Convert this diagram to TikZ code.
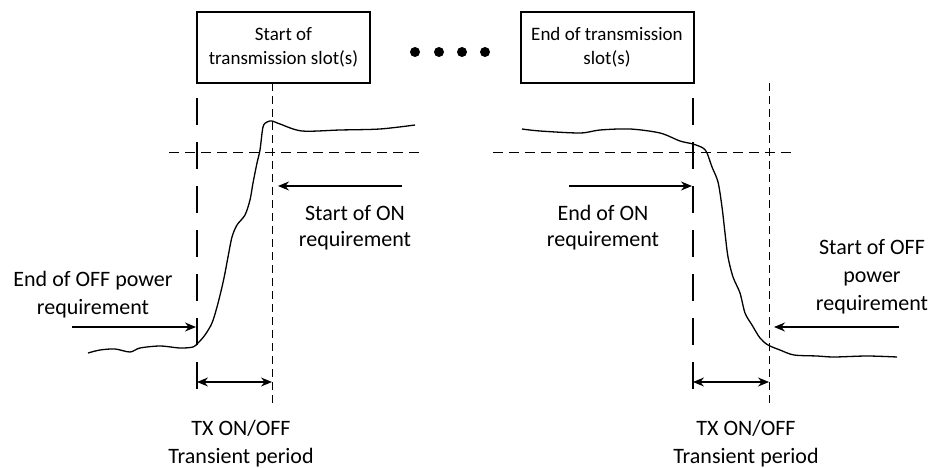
\documentclass[tikz,border=0pt]{standalone}
\usepackage{fontspec}
\setmainfont{Carlito}
\usetikzlibrary{arrows.meta}

\begin{document}
\begin{tikzpicture}[x=1pt,y=-1pt,>={Stealth[length=11pt,width=9pt]},
  every node/.style={font=\fontsize{22}{28}\selectfont,align=center,inner sep=0pt},
  slot/.style={draw,line width=2pt,minimum width=173pt,minimum height=71pt,font=\fontsize{19}{24}\selectfont},
  dot/.style={circle,fill,minimum size=10pt},
  longdash/.style={line width=1.6pt,dash pattern=on 27pt off 17pt},
  shortdash/.style={line width=1pt,dash pattern=on 8pt off 5pt},
  level/.style={line width=1pt,dash pattern=on 10pt off 6pt},
  wave/.style={line width=1.3pt},
  pointer/.style={line width=1.2pt}]

\useasboundingbox (0,0) rectangle (937,468);

\node[slot] (s1) at (283.5,47.5) {Start of\\transmission slot(s)};
\node[slot] (s2) at (607,47.5) {End of transmission\\slot(s)};
\foreach \i/\x in {1/415,2/439,3/462,4/485}
  \node[dot] (d\i) at (\x,52) {};

\coordinate (l1t) at (197,98);  \coordinate (l1b) at (197,403);
\coordinate (k1t) at (272,83);  \coordinate (k1b) at (272,403);
\coordinate (l2t) at (693,98);  \coordinate (l2b) at (693,403);
\coordinate (k2t) at (769,83);  \coordinate (k2b) at (769,403);
\coordinate (h1a) at (169,153); \coordinate (h1b) at (420,153);
\coordinate (h2a) at (493,153); \coordinate (h2b) at (795,153);

\draw[longdash] (l1t) -- (l1b);
\draw[longdash] (l2t) -- (l2b);
\draw[shortdash] (k1t) -- (k1b);
\draw[shortdash] (k2t) -- (k2b);
\draw[level] (h1a) -- (h1b);
\draw[level] (h2a) -- (h2b);

\draw[wave] plot[smooth,tension=0.5] coordinates {(88,353) (100,350) (115,349) (130,352) (140,348)
  (160,346) (180,348) (193,347) (198,343) (205,335) (212,323) (217,307) (222,287) (225,273)
  (228,257) (232,237) (237,225) (245,215) (250,200) (253,183) (257,163) (260,150) (263,127)
  (267,122) (272,121) (280,124) (302,131) (340,130) (380,129) (415,125)};
\draw[wave] plot[smooth,tension=0.5] coordinates {(522,129) (540,131) (580,133) (600,130) (630,129)
  (660,133) (680,141) (693,144) (703,148) (707,153) (712,167) (718,182) (722,207) (725,233)
  (728,257) (733,277) (740,293) (745,313) (752,325) (760,338) (768,345) (780,350) (794,355)
  (817,356) (834,357) (867,356) (897,357)};

\node (on1) at (355,213) {Start of ON};
\node (on1b) at (355,241) {requirement};
\node (on2) at (603,213) {End of ON};
\node (on2b) at (603,241) {requirement};
\node (off1) at (93,295) {End of OFF power\\requirement};
\node (off2) at (872,277) {Start of OFF\\power\\requirement};
\node (tx1) at (241,444) {TX ON/OFF\\Transient period};
\node (tx2) at (746,444) {TX ON/OFF\\Transient period};

\coordinate (a1s) at (402,186); \coordinate (a1e) at (278,186);
\coordinate (a2s) at (569,186); \coordinate (a2e) at (692,186);
\coordinate (a3s) at (72,327);  \coordinate (a3e) at (196,327);
\coordinate (a4s) at (899,327); \coordinate (a4e) at (774,327);
\coordinate (p1a) at (197,382); \coordinate (p1b) at (272,382);
\coordinate (p2a) at (693,382); \coordinate (p2b) at (769,382);

\draw[pointer,->] (a1s) -- (a1e);
\draw[pointer,->] (a2s) -- (a2e);
\draw[pointer,->] (a3s) -- (a3e);
\draw[pointer,->] (a4s) -- (a4e);
\draw[pointer,<->] (p1a) -- (p1b);
\draw[pointer,<->] (p2a) -- (p2b);

\end{tikzpicture}
\end{document}
